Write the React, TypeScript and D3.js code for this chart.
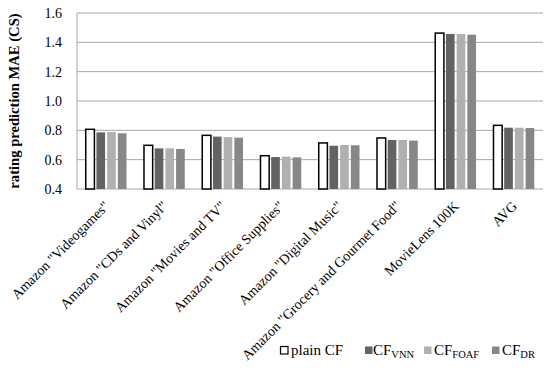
import React from "react";
import * as d3 from "d3";

const categories = [
  'Amazon "Videogames"',
  'Amazon "CDs and Vinyl"',
  'Amazon "Movies and TV"',
  'Amazon "Office Supplies"',
  'Amazon "Digital Music"',
  'Amazon "Grocery and Gourmet Food"',
  "MovieLens 100K",
  "AVG",
];
const seriesKeys = ["plain", "vnn", "foaf", "dr"];
const plainCF = [0.807, 0.698, 0.766, 0.627, 0.714, 0.748, 1.463, 0.834];
const cfVNN = [0.786, 0.677, 0.757, 0.618, 0.695, 0.734, 1.457, 0.818];
const cfFOAF = [0.789, 0.677, 0.754, 0.62, 0.7, 0.734, 1.457, 0.818];
const cfDR = [0.78, 0.673, 0.75, 0.616, 0.698, 0.73, 1.452, 0.816];
const yTicks = [0.4, 0.6, 0.8, 1.0, 1.2, 1.4, 1.6];

const values = [plainCF, cfVNN, cfFOAF, cfDR];
const fills = ["#ffffff", "#636363", "#b0b0b0", "#878787"];

const W = 550;
const H = 372;
const left = 77;
const right = 543;
const top = 13;
const bottom = 189;
const font = "'Liberation Serif', 'Times New Roman', serif";

export default function App() {
  const x = d3.scaleBand<string>().domain(categories).range([left, right]).paddingInner(0.3).paddingOuter(0.15);
  const xs = d3.scaleBand<string>().domain(seriesKeys).range([0, x.bandwidth()]).paddingInner(0.19).paddingOuter(0);
  const y = d3.scaleLinear().domain([0.4, 1.6]).range([bottom, top]);

  const legend = [
    { bx: 280.5, tx: 291, main: "plain CF", sub: "" },
    { bx: 365, tx: 373, main: "CF", sub: "VNN" },
    { bx: 424, tx: 434, main: "CF", sub: "FOAF" },
    { bx: 492, tx: 502, main: "CF", sub: "DR" },
  ];

  return (
    <svg width={W} height={H} style={{ position: "absolute", left: 0, top: 0, background: "#fff" }} fontFamily={font}>
      {yTicks.map((t) => (
        <g key={t}>
          <line x1={left} x2={right} y1={y(t)} y2={y(t)} stroke="#a6a6a6" strokeWidth={1} />
          <text x={left - 15} y={y(t)} dy="0.35em" textAnchor="end" fontSize={14} fill="#000">
            {t.toFixed(1)}
          </text>
        </g>
      ))}
      <line x1={left} x2={left} y1={top} y2={bottom} stroke="#a6a6a6" strokeWidth={1} />
      {categories.map((c, ci) => (
        <g key={c}>
          {seriesKeys.map((s, si) => {
            const v = values[si][ci];
            const bx = (x(c) as number) + (xs(s) as number);
            return (
              <rect
                key={s}
                x={bx}
                y={y(v)}
                width={xs.bandwidth()}
                height={bottom - y(v)}
                fill={fills[si]}
                stroke={si === 0 ? "#000" : "none"}
                strokeWidth={si === 0 ? 1.5 : 0}
              />
            );
          })}
          <text
            transform={`translate(${(x(c) as number) + x.bandwidth() / 2 + 4},${bottom + 18}) rotate(-45)`}
            textAnchor="end"
            fontSize={14}
            fill="#000"
          >
            {c}
          </text>
        </g>
      ))}
      <text
        transform={`translate(19,${(top + bottom) / 2}) rotate(-90)`}
        textAnchor="middle"
        fontWeight="bold"
        fontSize={14.6}
        fill="#000"
      >
        rating prediction MAE (CS)
      </text>
      {legend.map((l, i) => (
        <g key={i}>
          <rect
            x={l.bx}
            y={346.5}
            width={7.5}
            height={7.5}
            fill={fills[i]}
            stroke={i === 0 ? "#000" : "none"}
            strokeWidth={i === 0 ? 1.2 : 0}
          />
          <text x={l.tx} y={355} fontSize={15} fill="#000">
            {l.main}
            {l.sub && (
              <tspan fontSize={10.5} dy={3}>
                {l.sub}
              </tspan>
            )}
          </text>
        </g>
      ))}
    </svg>
  );
}
